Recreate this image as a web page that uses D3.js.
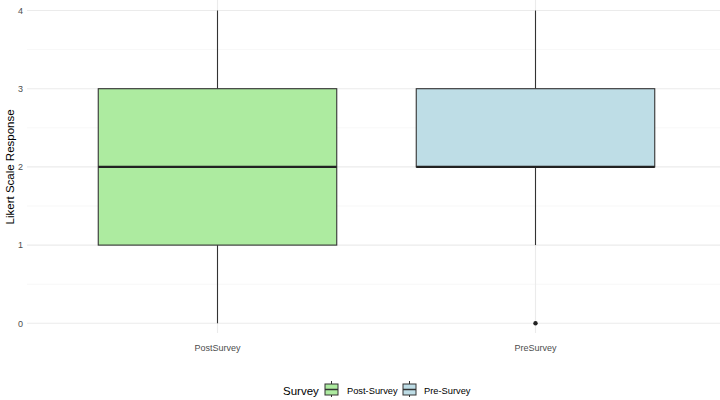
<!DOCTYPE html>
<html>
<head>
<meta charset="utf-8">
<script src="https://cdn.jsdelivr.net/npm/d3@7"></script>
<style>
  body { margin: 0; background: #fff; }
  text { font-family: "Liberation Sans", Arial, sans-serif; }
</style>
</head>
<body>
<svg id="chart"></svg>
<script>
const width = 720
const height = 400

// data
const groups = ['PostSurvey', 'PreSurvey']
const legendLabels = ['Post-Survey', 'Pre-Survey']
const fills = ['#adeba0', '#bedde6']
const lowWhisker = [0, 1]
const q1 = [1, 2]
const median = [2, 2]
const q3 = [3, 3]
const highWhisker = [4, 4]
const outliers = [[], [0]]
const yTicks = [0, 1, 2, 3, 4]

const svg = d3.select('#chart').attr('width', width).attr('height', height)

// discrete positions 1..n with ggplot-like 0.6 expansion
const x = d3.scaleLinear().domain([0.4, 2.6]).range([26.7, 726.3])
const y = d3.scaleLinear().domain([0, 4]).range([323.3, 10.5])
const unit = x(2) - x(1)
const boxW = unit * 0.75

const left = 27, right = 720

// minor grid
const g = svg.append('g')
g.selectAll('.minor')
  .data([0.5, 1.5, 2.5, 3.5])
  .join('line')
  .attr('x1', left).attr('x2', right)
  .attr('y1', d => y(d)).attr('y2', d => y(d))
  .attr('stroke', '#f2f2f2').attr('stroke-width', 0.6)

// major grid
g.selectAll('.major')
  .data(yTicks)
  .join('line')
  .attr('x1', left).attr('x2', right)
  .attr('y1', d => y(d)).attr('y2', d => y(d))
  .attr('stroke', '#ebebeb').attr('stroke-width', 1.1)

g.selectAll('.vmajor')
  .data(groups)
  .join('line')
  .attr('x1', (d, i) => x(i + 1)).attr('x2', (d, i) => x(i + 1))
  .attr('y1', 0).attr('y2', 333)
  .attr('stroke', '#ebebeb').attr('stroke-width', 1.1)

// y axis labels
svg.append('g')
  .attr('transform', `translate(${left - 4},0)`)
  .call(d3.axisLeft(y).tickValues(yTicks).tickSize(0).tickPadding(0).tickFormat(d3.format('d')))
  .call(a => a.select('.domain').remove())
  .selectAll('text')
  .attr('fill', '#4d4d4d')
  .style('font-size', '9px')

// x axis labels
svg.append('g')
  .selectAll('text')
  .data(groups)
  .join('text')
  .attr('x', (d, i) => x(i + 1))
  .attr('y', 351)
  .attr('text-anchor', 'middle')
  .attr('fill', '#4d4d4d')
  .style('font-size', '9px')
  .text(d => d)

// y title
svg.append('text')
  .attr('transform', `translate(14,${y(2)}) rotate(-90)`)
  .attr('text-anchor', 'middle')
  .attr('fill', '#000')
  .style('font-size', '11.5px')
  .text('Likert Scale Response')

// boxes
const boxes = svg.append('g')
  .selectAll('g')
  .data(groups)
  .join('g')

boxes.append('line')
  .attr('x1', (d, i) => x(i + 1)).attr('x2', (d, i) => x(i + 1))
  .attr('y1', (d, i) => y(highWhisker[i])).attr('y2', (d, i) => y(q3[i]))
  .attr('stroke', '#333').attr('stroke-width', 1.1)

boxes.append('line')
  .attr('x1', (d, i) => x(i + 1)).attr('x2', (d, i) => x(i + 1))
  .attr('y1', (d, i) => y(q1[i])).attr('y2', (d, i) => y(lowWhisker[i]))
  .attr('stroke', '#333').attr('stroke-width', 1.1)

boxes.append('rect')
  .attr('x', (d, i) => x(i + 1) - boxW / 2)
  .attr('width', boxW)
  .attr('y', (d, i) => y(q3[i]))
  .attr('height', (d, i) => y(q1[i]) - y(q3[i]))
  .attr('fill', (d, i) => fills[i])
  .attr('stroke', '#333').attr('stroke-width', 1.1)

boxes.append('line')
  .attr('x1', (d, i) => x(i + 1) - boxW / 2).attr('x2', (d, i) => x(i + 1) + boxW / 2)
  .attr('y1', (d, i) => y(median[i])).attr('y2', (d, i) => y(median[i]))
  .attr('stroke', '#222').attr('stroke-width', 2.2)

boxes.selectAll('circle')
  .data((d, i) => outliers[i].map(v => ({ v, i })))
  .join('circle')
  .attr('cx', d => x(d.i + 1))
  .attr('cy', d => y(d.v))
  .attr('r', 2.2)
  .attr('fill', '#222')

// legend
const leg = svg.append('g')
leg.append('text')
  .attr('x', 283).attr('y', 395)
  .attr('fill', '#000')
  .style('font-size', '11.5px')
  .text('Survey')

const keyX = [325, 403]
const textX = [347, 424]
legendLabels.forEach(function (lab, i) {
  const k = leg.append('g').attr('transform', `translate(${keyX[i]},0)`)
  k.append('line').attr('x1', 6.5).attr('x2', 6.5).attr('y1', 381).attr('y2', 397)
    .attr('stroke', '#333').attr('stroke-width', 1)
  k.append('rect').attr('x', 0).attr('y', 384).attr('width', 13).attr('height', 11)
    .attr('fill', fills[i]).attr('stroke', '#333').attr('stroke-width', 1)
  k.append('line').attr('x1', 0).attr('x2', 13).attr('y1', 389.5).attr('y2', 389.5)
    .attr('stroke', '#333').attr('stroke-width', 1.5)
  leg.append('text')
    .attr('x', textX[i]).attr('y', 394)
    .attr('fill', '#000')
    .style('font-size', '9.3px')
    .text(lab)
})
</script>
</body>
</html>
